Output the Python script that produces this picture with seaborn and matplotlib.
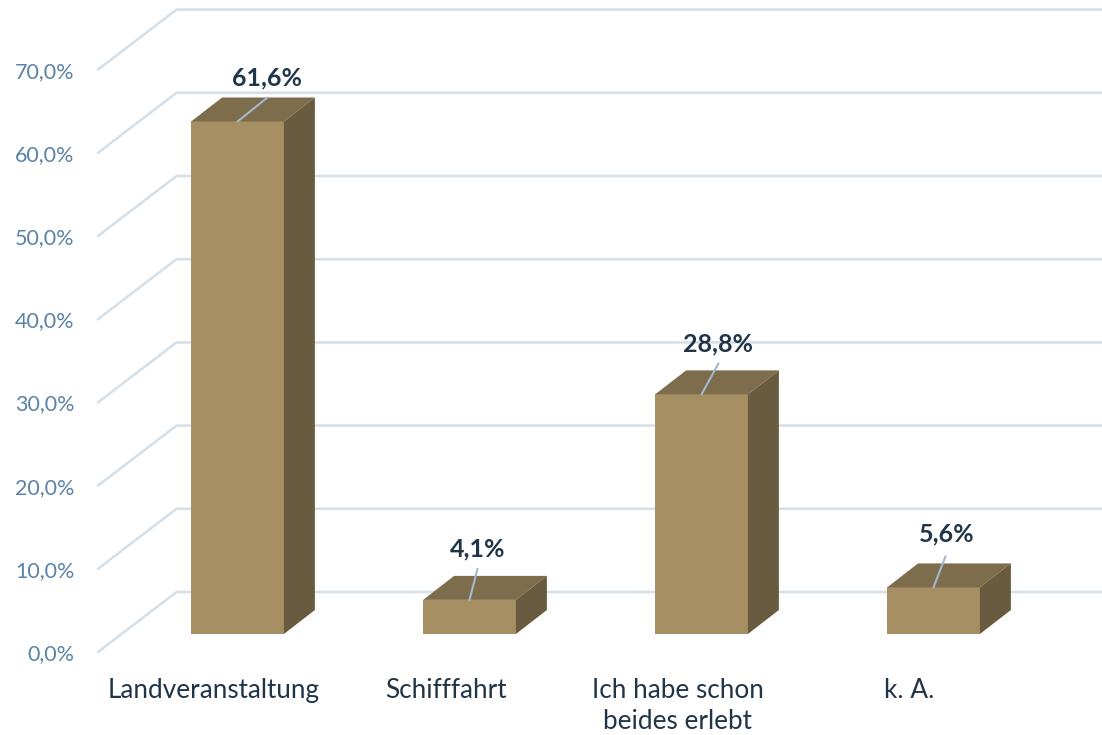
import numpy as np
import pandas as pd
import seaborn as sns
from matplotlib import pyplot as plt
from matplotlib.patches import Polygon
from matplotlib.transforms import ScaledTranslation

categories = ["Landveranstaltung", "Schifffahrt", "Ich habe schon\nbeides erlebt", "k. A."]
values = [61.6, 4.1, 28.8, 5.6]
value_labels = ["61,6%", "4,1%", "28,8%", "5,6%"]
axis_values = [0, 10, 20, 30, 40, 50, 60, 70]
axis_labels = ["0,0%", "10,0%", "20,0%", "30,0%", "40,0%", "50,0%", "60,0%", "70,0%"]
# leader end, relative to the middle of the bar's top edge, in pixels
leader_dx = [30, 8, 17, 12]
leader_dy = [24, 31, 31, 31]
label_dx = [29, 8, 16, 13]
label_dy = [44, 51, 50, 53]

front_col = "#A58F63"
top_col = "#7E6D4C"
side_col = "#695B3F"
wall_col = "#D6E0E9"
dark_text = "#203548"
axis_text = "#5B83A6"

sns.set_theme(style="white")
plt.rcParams["font.family"] = ["Lato", "DejaVu Sans"]

fig = plt.figure(figsize=(11.02, 7.35), dpi=100)
W, H = 1102, 735
# axes box in pixels: left 98, right 1102, top 10, bottom 652
ax = fig.add_axes([98 / W, (H - 652) / H, (W - 98) / W, 642 / H])

df = pd.DataFrame({"cat": categories, "val": values})
sns.barplot(data=df, x="cat", y="val", color=front_col, saturation=1, width=0.4,
            linewidth=0, ax=ax, zorder=3)

# pixel scales
px_x = 232.0
px_y = 8.32
ax.set_xlim(-139.5 / px_x, 864.5 / px_x)
ax.set_ylim(-18 / px_y, 624 / px_y)

# depth of the fake 3d box
dx = 31 / px_x
dy = 24 / px_y

# floor and back wall lines
front_x = -139.5 / px_x
back_x = -61 / px_x
front_off = -18 / px_y
back_off = 42 / px_y
right_x = 864.5 / px_x
for v in axis_values:
    ax.plot([front_x, back_x, right_x], [v + front_off, v + back_off, v + back_off],
            color=wall_col, lw=1.9, zorder=1, clip_on=False, solid_joinstyle="miter")

# top and side faces from the bars seaborn drew
for i, bar in enumerate(ax.patches):
    x0 = bar.get_x()
    x1 = x0 + bar.get_width()
    h = bar.get_height()
    ax.add_patch(Polygon([(x0, h), (x1, h), (x1 + dx, h + dy), (x0 + dx, h + dy)],
                         closed=True, facecolor=top_col, edgecolor="none", zorder=3))
    ax.add_patch(Polygon([(x1, 0), (x1 + dx, dy), (x1 + dx, h + dy), (x1, h)],
                         closed=True, facecolor=side_col, edgecolor="none", zorder=3))
    xc = (x0 + x1) / 2
    ax.plot([xc, xc + leader_dx[i] / px_x], [h, h + leader_dy[i] / px_y],
            color="#A3B8CC", lw=1.5, zorder=4)
    ax.text(xc + label_dx[i] / px_x, h + label_dy[i] / px_y, value_labels[i],
            ha="center", va="center", fontsize=18, fontweight="bold", color=dark_text, zorder=5)

# ticks
ax.set_yticks([v + front_off for v in axis_values])
ax.set_yticklabels(axis_labels, fontsize=15.5, color=axis_text)
ax.tick_params(axis="y", length=0, pad=17)
ax.tick_params(axis="x", length=0, pad=19)
for lab in ax.get_xticklabels():
    lab.set_fontsize(18.8)
    lab.set_color(dark_text)
    lab.set_linespacing(1.3)
    lab.set_transform(lab.get_transform() + ScaledTranslation(-24 / 100, 0, fig.dpi_scale_trans))

ax.set_xlabel("")
ax.set_ylabel("")
sns.despine(ax=ax, left=True, bottom=True)
ax.patch.set_alpha(0)

fig.savefig("out.png", dpi=100)
